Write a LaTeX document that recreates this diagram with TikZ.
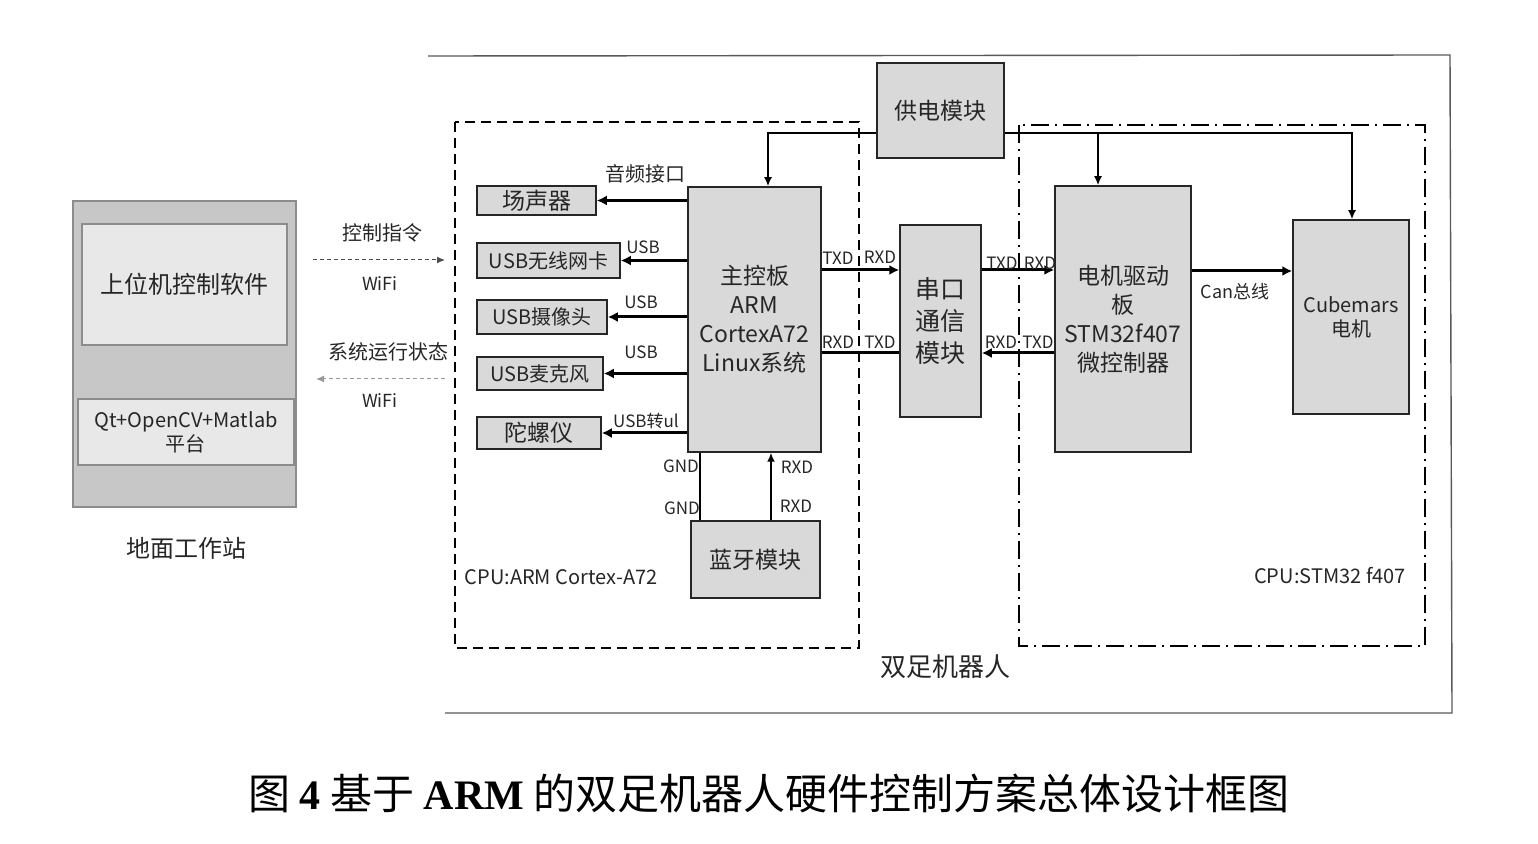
\documentclass[tikz,border=0pt]{standalone}
\usepackage{fontspec}
\setmainfont{Noto Sans CJK SC}
\newfontfamily\timesfont{Liberation Serif}
\usepackage{tikz}
\usetikzlibrary{arrows.meta}

\begin{document}
\begin{tikzpicture}[x=0.5pt, y=-0.5pt,
		node_style/.style={rectangle,draw=black!85,line width=0.75pt,fill=black!15,text=black!85,inner sep=0pt,align=center},
		station_style/.style={rectangle,draw=black!45,line width=0.6pt,fill=black!22,inner sep=0pt},
		soft_style/.style={rectangle,draw=black!45,line width=0.6pt,fill=black!9,text=black!85,inner sep=0pt,align=center},
		label_style/.style={text=black!85,inner sep=0pt,font=\fontsize{8.5}{10}\selectfont},
		edge_style/.style={draw=black,line width=1.5pt,-{Latex[length=5pt,width=5pt]}},
		power_style/.style={draw=black,line width=0.9pt,-{Latex[length=4.5pt,width=4pt]}},
		wifi_style/.style={draw=black!70,line width=0.5pt,dash pattern=on 2pt off 1.5pt,-{Latex[length=4pt,width=3.5pt]}},
		arm_frame/.style={draw=black,line width=1pt,dash pattern=on 5pt off 3pt},
		stm_frame/.style={draw=black,line width=1pt,dash pattern=on 9pt off 3pt on 1pt off 3pt}]
		
		\useasboundingbox (0,0) rectangle (1538,844);
		
		% frames
		\draw[draw=black!65, line width=0.7pt] (428,56) -- (1450,55) -- (1452,713) -- (445,713);
		\draw[arm_frame] (455,122) rectangle (859,648);
		\draw[stm_frame] (1019,125) rectangle (1425,646);
		
		% ground station
		\node[station_style, minimum width=111.5pt, minimum height=153pt] (station) at (184.5,354) {};
		\node[soft_style, minimum width=102.5pt, minimum height=60.5pt, font=\fontsize{12}{14}\selectfont] (soft) at (184.5,284.5) {上位机控制软件};
		\node[soft_style, minimum width=108pt, minimum height=33pt, font=\fontsize{10}{12}\selectfont] (platform) at (186,432) {Qt+OpenCV+Matlab\\平台};
		\node[label_style, font=\fontsize{12}{14}\selectfont] (station_name) at (186,548) {地面工作站};
		
		% boxes
		\node[node_style, minimum width=63.5pt, minimum height=47.5pt, font=\fontsize{11.5}{14}\selectfont] (power) at (940.5,110.5) {供电模块};
		\node[node_style, minimum width=66.5pt, minimum height=132.5pt, font=\fontsize{11.5}{14.5}\selectfont] (main) at (754.5,319.5) {主控板\\ARM\\CortexA72\\Linux系统};
		\node[node_style, minimum width=59.5pt, minimum height=14.5pt, font=\fontsize{11.5}{13}\selectfont] (speaker) at (536.5,200.5) {场声器};
		\node[node_style, minimum width=71.5pt, minimum height=17.5pt, font=\fontsize{10}{12}\selectfont] (wlan) at (548.5,260.5) {USB无线网卡};
		\node[node_style, minimum width=65pt, minimum height=17pt, font=\fontsize{10}{12}\selectfont] (camera) at (542,317) {USB摄像头};
		\node[node_style, minimum width=63pt, minimum height=16.5pt, font=\fontsize{10}{12}\selectfont] (micro) at (540,373.5) {USB麦克风};
		\node[node_style, minimum width=62pt, minimum height=16pt, font=\fontsize{11.5}{13}\selectfont] (gyro) at (539,433) {陀螺仪};
		\node[node_style, minimum width=64.5pt, minimum height=38.5pt, font=\fontsize{11.5}{13}\selectfont] (bluetooth) at (755.5,559.5) {蓝牙模块};
		\node[node_style, minimum width=40.5pt, minimum height=96pt, font=\fontsize{12.5}{16}\selectfont] (uart) at (940.5,321) {串口\\通信\\模块};
		\node[node_style, minimum width=68pt, minimum height=133pt, font=\fontsize{11.5}{14.5}\selectfont] (board) at (1123,319) {电机驱动\\板\\STM32f407\\微控制器};
		\node[node_style, minimum width=58pt, minimum height=97pt, font=\fontsize{10}{12}\selectfont] (cube) at (1351,317) {Cubemars\\电机};
		
		% wifi links
		\coordinate (cmd_a) at (313,260);
		\coordinate (cmd_b) at (445,260);
		\coordinate (state_a) at (445,379);
		\coordinate (state_b) at (316,379);
		\draw[wifi_style] (cmd_a) -- (cmd_b);
		\draw[wifi_style, draw=black!40] (state_a) -- (state_b);
		\node[label_style, font=\fontsize{10}{12}\selectfont] (cmd) at (382,233) {控制指令};
		\node[label_style, font=\fontsize{9}{11}\selectfont] (wifi_a) at (380,284) {WiFi};
		\node[label_style, font=\fontsize{10}{12}\selectfont] (state) at (388,352) {系统运行状态};
		\node[label_style, font=\fontsize{9}{11}\selectfont] (wifi_b) at (380,401) {WiFi};
		
		% main board to devices
		\draw[edge_style] (main.west |- speaker) -- (speaker);
		\draw[edge_style] (main.west |- wlan) -- (wlan);
		\draw[edge_style] (main.west |- camera) -- (camera);
		\draw[edge_style] (main.west |- micro) -- (micro);
		\draw[edge_style] (main.west |- gyro) -- (gyro);
		\node[label_style, font=\fontsize{10}{12}\selectfont] (l_audio) at (645,174) {音频接口};
		\node[label_style] (l_usb1) at (643,247) {USB};
		\node[label_style] (l_usb2) at (641,302) {USB};
		\node[label_style] (l_usb3) at (641,352) {USB};
		\node[label_style] (l_usbttl) at (646,421) {USB转ul};
		
		% bluetooth
		\coordinate (gnd) at (700,0);
		\coordinate (rxd) at (771,0);
		\draw[draw=black, line width=0.75pt] (bluetooth.north -| gnd) -- (main.south -| gnd);
		\draw[power_style] (bluetooth.north -| rxd) -- (main.south -| rxd);
		\node[label_style] (l_gnd1) at (681,466) {GND};
		\node[label_style] (l_gnd2) at (682,508) {GND};
		\node[label_style] (l_rxd1) at (797,467) {RXD};
		\node[label_style] (l_rxd2) at (796,506) {RXD};
		
		% power
		\coordinate (pw_l) at (768,133);
		\coordinate (pw_m) at (1098,133);
		\coordinate (pw_r) at (1352,133);
		\draw[power_style] (power.west |- pw_l) -| (main.north -| pw_l);
		\draw[power_style] (power.east |- pw_r) -| (cube.north -| pw_r);
		\draw[power_style] (pw_m) -- (board.north -| pw_m);
		
		% serial links
		\coordinate (tx) at (0,270);
		\coordinate (rx) at (0,353);
		\coordinate (can) at (0,271);
		\draw[edge_style] (main.east |- tx) -- (uart.west |- tx);
		\draw[edge_style, -] (main.east |- rx) -- (uart.west |- rx);
		\draw[edge_style] (uart.east |- tx) -- (board.west |- tx);
		\draw[edge_style] (board.west |- rx) -- (uart.east |- rx);
		\draw[edge_style] (board.east |- can) -- (cube.west |- can);
		\node[label_style] (l_tx1) at (838,258) {TXD};
		\node[label_style] (l_rx1) at (880,257) {RXD};
		\node[label_style] (l_rx2) at (838,342) {RXD};
		\node[label_style] (l_tx2) at (880,342) {TXD};
		\node[label_style] (l_tx3) at (1002,263) {TXD};
		\node[label_style] (l_rx3) at (1040,263) {RXD};
		\node[label_style] (l_rx4) at (1001,342) {RXD};
		\node[label_style] (l_tx4) at (1038,342) {TXD};
		\node[label_style, font=\fontsize{9}{11}\selectfont] (l_can) at (1235,292) {Can总线};
		
		% captions
		\node[label_style, font=\fontsize{10}{12}\selectfont] (cpu_arm) at (561,577) {CPU:ARM Cortex-A72};
		\node[label_style, font=\fontsize{10}{12}\selectfont] (cpu_stm) at (1330,576) {CPU:STM32 f407};
		\node[label_style, font=\fontsize{13}{15}\selectfont] (robot) at (945,667) {双足机器人};
		\node[label_style, text=black, font=\fontsize{21}{24}\selectfont] (caption) at (769,793) {图 {\timesfont\bfseries 4} 基于 {\timesfont\bfseries ARM} 的双足机器人硬件控制方案总体设计框图};
		
\end{tikzpicture}
\end{document}
